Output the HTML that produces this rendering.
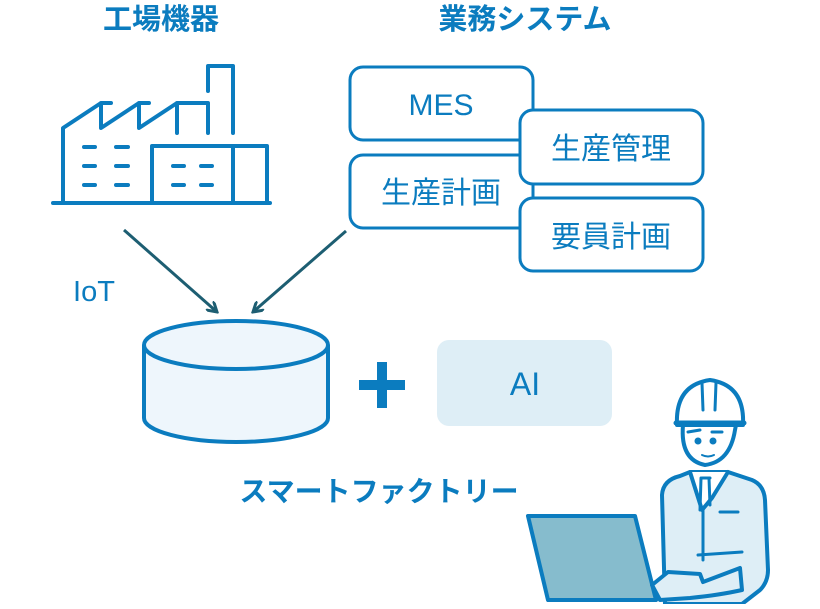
<!DOCTYPE html>
<html><head><meta charset="utf-8"><style>
body{margin:0;background:#fff}
svg text{font-family:"Liberation Sans","Noto Sans CJK JP",sans-serif;fill:#0b7cbf}
</style></head><body>
<svg width="820" height="604" viewBox="0 0 820 604" xmlns="http://www.w3.org/2000/svg">
<defs><marker id="ah" markerWidth="12" markerHeight="12" refX="10" refY="6" orient="auto" markerUnits="userSpaceOnUse"><path d="M0,0 L10,6 L0,12" fill="none" stroke="#1d5e72" stroke-width="3"/></marker></defs>
<text x="161" y="29" font-size="29" font-weight="bold" text-anchor="middle">工場機器</text>
<text x="525" y="29" font-size="29" font-weight="bold" text-anchor="middle">業務システム</text>
<g fill="none" stroke="#0b7cbf" stroke-width="4" stroke-linecap="round" stroke-linejoin="round">
<path d="M53,203 H270"/>
<path d="M63,203 V128 L101,103 H111 M101,103 V128 L139,103 H149 M139,103 V128 L177,103 H208 M177,103 V133 M208,103 V133 M208,91 V66 H233 V133"/>
<rect x="152" y="146" width="115" height="57"/>
<path d="M233,146 V203"/>
<path d="M84,147h11M116,147h12M84,166h11M116,166h12M84,185h11M116,185h12M173,166h11M201,166h11M173,185h11M201,185h11"/>
</g>
<g fill="#fff" stroke="#0b7cbf" stroke-width="3">
<rect x="350" y="67" width="183" height="73" rx="13"/>
<rect x="350" y="155" width="183" height="73" rx="13"/>
<rect x="520" y="110" width="183" height="74" rx="13"/>
<rect x="520" y="198" width="183" height="73" rx="13"/>
</g>
<g>
<text x="441" y="115" font-size="30" text-anchor="middle">MES</text>
<text x="441" y="203" font-size="30" text-anchor="middle">生産計画</text>
<text x="611" y="159" font-size="30" text-anchor="middle">生産管理</text>
<text x="611" y="247" font-size="30" text-anchor="middle">要員計画</text>
<text x="94" y="301" font-size="29" text-anchor="middle">IoT</text>
</g>
<path d="M124,230 L217,312" stroke="#1d5e72" stroke-width="3" marker-end="url(#ah)"/>
<path d="M346,231 L253,312" stroke="#1d5e72" stroke-width="3" marker-end="url(#ah)"/>
<path d="M144,345 V418 A92,24 0 0 0 328,418 V345" fill="#eef6fc" stroke="#0b7cbf" stroke-width="4"/>
<ellipse cx="236" cy="345" rx="92" ry="24" fill="#eef6fc" stroke="#0b7cbf" stroke-width="4"/>
<path d="M382,362 V408 M359,385 H405" stroke="#0b7cbf" stroke-width="10"/>
<rect x="437" y="340" width="175" height="86" rx="12" fill="#deeef6"/>
<text x="525" y="395" font-size="32" text-anchor="middle">AI</text>
<text x="379" y="501" font-size="28" font-weight="bold" text-anchor="middle">スマートファクトリー</text>
<g stroke="#0b7cbf" stroke-width="4" stroke-linejoin="round" stroke-linecap="round">
<path d="M665,604 L662,495 Q663,480 680,476 L690,472 L728,472 L752,480 Q764,485 765,500 L768,570 Q768,582 760,590 L742,604 Z" fill="#deeef6"/>
<path d="M690,472 L702,510 L712,498 L728,472" fill="#fff"/>
<path d="M701,478 L700,510 M709,478 L710,505 M702,478 H710" fill="none" stroke-width="3"/>
<path d="M703,510 V560 M720,512 H738" fill="none" stroke-width="3"/>
<path d="M683,425 Q680,460 705,465 Q730,462 735,430 L736,425" fill="#fff"/>
<path d="M677,425 Q675,385 710,380 Q745,385 743,425 Z" fill="#fff"/>
<path d="M676,423 H744" stroke-width="5"/>
<path d="M702,383 L703,410 M716,383 L715,410" fill="none" stroke-width="3"/>
<path d="M688,432 L700,430 M712,432 L722,432" stroke-width="3"/>
<circle cx="698" cy="441" r="1.5" fill="#0b7cbf"/><circle cx="713" cy="441" r="1.5" fill="#0b7cbf"/>
<path d="M702,455 Q708,458 714,455" fill="none" stroke-width="2"/>
<path d="M528,516 L635,516 L656,600 L548,600 Z" fill="#86bccd"/>
<path d="M652,585 L668,572 L700,574 L703,582 L740,568 L742,590 Q720,595 690,598 L660,600 Z" fill="#deeef6"/>
<path d="M698,555 L742,552" fill="none" stroke-width="3"/>
</g>
</svg>
</body></html>
